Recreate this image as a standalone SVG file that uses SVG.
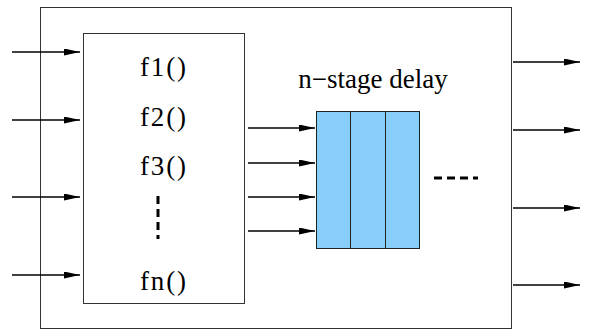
<svg xmlns="http://www.w3.org/2000/svg" width="591" height="331" viewBox="0 0 591 331">
<defs>
<marker id="ah" markerWidth="16" markerHeight="7" refX="16" refY="3.5" orient="auto" markerUnits="userSpaceOnUse">
<path d="M0,0 L16,3.5 L0,7 Z" fill="#000"/>
</marker>
</defs>
<style>
.box{fill:#fff;stroke:#333;stroke-width:1}
.lbl{font-family:"Liberation Serif",serif;font-size:27px;fill:#000}
.arr{stroke:#000;stroke-width:1.5;fill:none;marker-end:url(#ah)}
.cell{fill:#87CEFA;stroke:#222;stroke-width:1}
.dots{stroke:#000;stroke-width:3;stroke-dasharray:8,5;fill:none}
</style>
<rect width="591" height="331" fill="#fff"/>
<g id="outer"><rect class="box" x="40.5" y="7.5" width="471" height="321"/></g>
<g id="funcs">
<rect class="box" x="83.5" y="33.5" width="161" height="270"/>
<text class="lbl" x="163" y="76" text-anchor="middle" textLength="46">f1()</text>
<text class="lbl" x="163" y="126" text-anchor="middle" textLength="46">f2()</text>
<text class="lbl" x="163" y="175" text-anchor="middle" textLength="46">f3()</text>
<path class="dots" d="M158,196 V239"/>
<text class="lbl" x="163" y="290" text-anchor="middle" textLength="46">fn()</text>
</g>
<g id="delay">
<text class="lbl" x="373" y="88" text-anchor="middle">n−stage delay</text>
<rect class="cell" x="316.5" y="111.5" width="34" height="137"/>
<rect class="cell" x="350.5" y="111.5" width="35" height="137"/>
<rect class="cell" x="385.5" y="111.5" width="34" height="137"/>
<path class="dots" d="M434,178 H478"/>
</g>
<g id="connectors">
<path class="arr" d="M12,52 H80"/>
<path class="arr" d="M12,120 H80"/>
<path class="arr" d="M12,197 H80"/>
<path class="arr" d="M12,275 H80"/>
<path class="arr" d="M248,128 H315"/>
<path class="arr" d="M248,163 H315"/>
<path class="arr" d="M248,197 H315"/>
<path class="arr" d="M248,231 H315"/>
<path class="arr" d="M513,62 H580"/>
<path class="arr" d="M513,130 H580"/>
<path class="arr" d="M513,208 H580"/>
<path class="arr" d="M513,285 H580"/>
</g>
</svg>
